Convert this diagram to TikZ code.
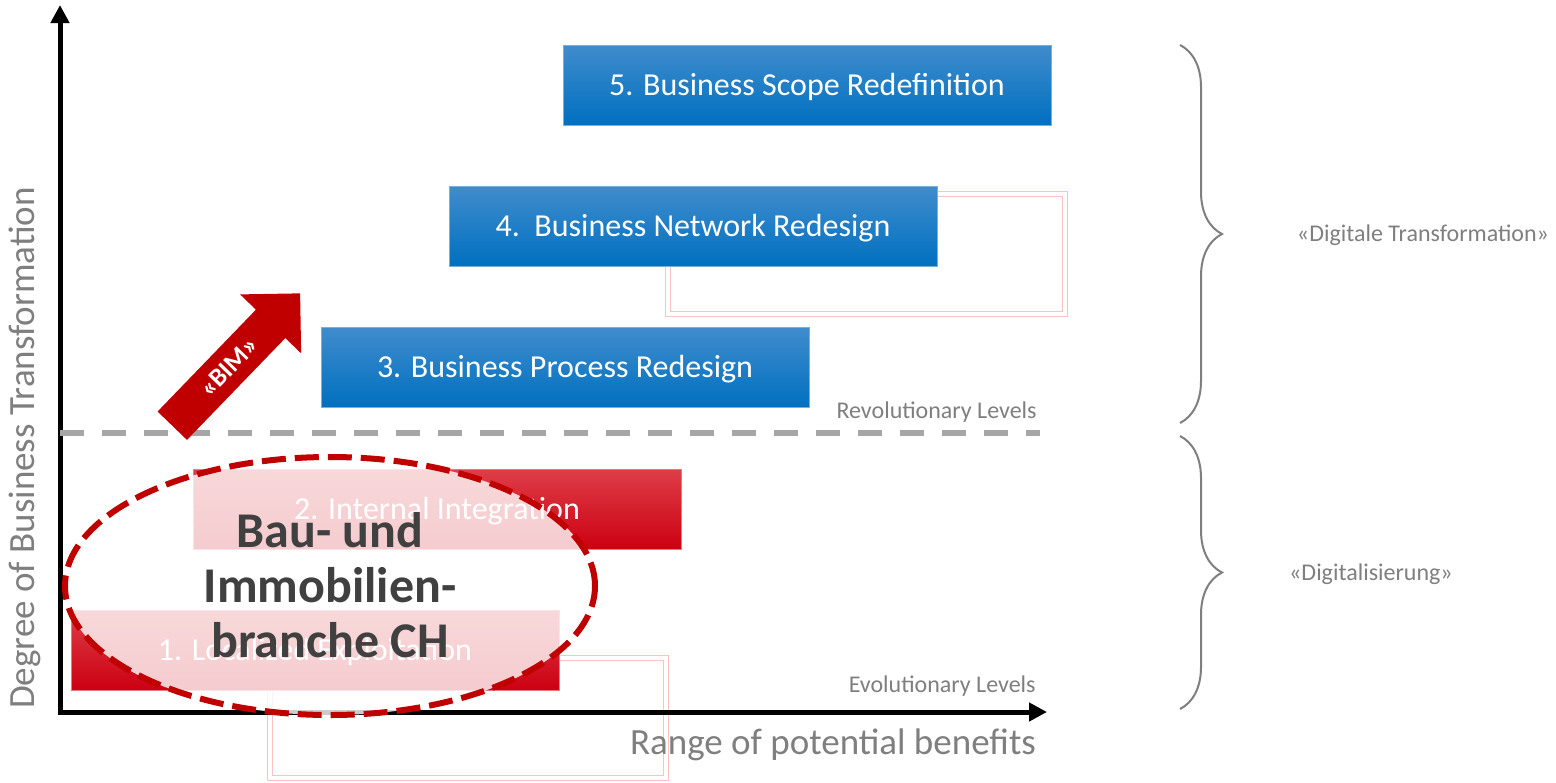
\documentclass[tikz,border=0pt]{standalone}
\usepackage{fontspec}
\setmainfont{Carlito}
\usepackage{tikz}
\usetikzlibrary{arrows.meta, positioning, shapes.arrows, shapes.geometric, decorations.pathreplacing}

\definecolor{bluetop}{RGB}{64,140,204}
\definecolor{bluebot}{RGB}{0,112,192}
\definecolor{redtop}{RGB}{222,62,72}
\definecolor{redbot}{RGB}{204,0,18}
\definecolor{darkred}{RGB}{192,0,0}
\definecolor{txtgray}{RGB}{127,127,127}
\definecolor{dashgray}{RGB}{166,166,166}
\definecolor{faintpink}{RGB}{250,195,195}
\definecolor{inkgray}{RGB}{64,64,64}

\begin{document}
\begin{tikzpicture}[x=0.5pt,y=-0.5pt,
    level/.style={minimum width=244pt,minimum height=40pt,inner sep=0pt,text height=13.3pt,text depth=3pt,
                  text=white,font=\fontsize{16}{19}\selectfont},
    bluelevel/.style={level,top color=bluetop,bottom color=bluebot,draw=bluetop!70!white,line width=0.5pt},
    redlevel/.style={level,top color=redtop,bottom color=redbot,draw=redtop!70!white,line width=0.5pt},
    note/.style={text=txtgray,inner sep=0pt,font=\fontsize{12}{14}\selectfont},
    axislabel/.style={text=txtgray,font=\fontsize{18.5}{22}\selectfont},
    axis/.style={line width=2.5pt,line cap=rect,-{Triangle[length=9pt,width=9pt]}},
    curly/.style={draw=txtgray,line width=1pt,decorate,decoration={brace,amplitude=21pt}},
    ghost/.style={draw=faintpink,line width=0.4pt}]
    \useasboundingbox[fill=white] (0,0) rectangle (1556,782);

      \draw[ghost] (665,191) rectangle (1067,316);
      \draw[ghost] (670,196) rectangle (1062,311);
      \draw[ghost] (267,655) rectangle (668,780);
      \draw[ghost] (272,660) rectangle (663,775);

      \node[bluelevel] (l5) at (807,85)  {5. Business Scope Redefinition};
      \node[bluelevel] (l4) at (693,226) {4.\ \ Business Network Redesign};
      \node[bluelevel] (l3) at (565,367) {3. Business Process Redesign};
      \node[redlevel]  (l2) at (437,509) {2. Internal Integration};
      \node[redlevel]  (l1) at (315,650) {1. Localized Exploitation};

      \coordinate (origin) at (60,712);
      \coordinate (ytip) at (60,5);
      \coordinate (xtip) at (1047,712);
      \draw[axis] (origin) -- (ytip);
      \draw[axis] (origin) -- (xtip);
      \node[axislabel, rotate=90] (ylab) at (25,448) {Degree of Business Transformation};
      \node[axislabel] (xlab) at (833,745) {Range of potential benefits};

      \coordinate (sepl) at (60,433);
      \coordinate (sepr) at (1040,433);
      \draw[dashgray, line width=3pt, dash pattern=on 12pt off 9pt] (sepl) -- (sepr);
      \node[note, anchor=base east] (revo) at (1037,418) {Revolutionary Levels};
      \node[note, anchor=base east] (evo)  at (1036,692) {Evolutionary Levels};

      \draw[curly] (1180,45) -- (1180,423);
      \draw[curly] (1180,436) -- (1180,709);
      \node[note] (trafo) at (1423,235) {«Digitale Transformation»};
      \node[note] (digi)  at (1371,574) {«Digitalisierung»};

      \node[single arrow, fill=darkred, text=white, font=\bfseries\fontsize{13}{15}\selectfont,
            minimum height=92pt, single arrow head extend=11pt, inner ysep=5.8pt,
            rotate=46, anchor=tail] (bim) at (172,426) {«BIM»};

      \node[ellipse, draw=darkred, line width=3pt, dash pattern=on 12pt off 4.5pt,
            fill=white, fill opacity=0.8, draw opacity=1,
            minimum width=265pt, minimum height=129pt] (cloud) at (330,586) {};
      \node[align=center, text=inkgray, font=\bfseries\fontsize{25}{27.5}\selectfont]
            (branche) at (330,585) {Bau- und\\Immobilien-\\branche CH};
    \end{tikzpicture}
\end{document}
